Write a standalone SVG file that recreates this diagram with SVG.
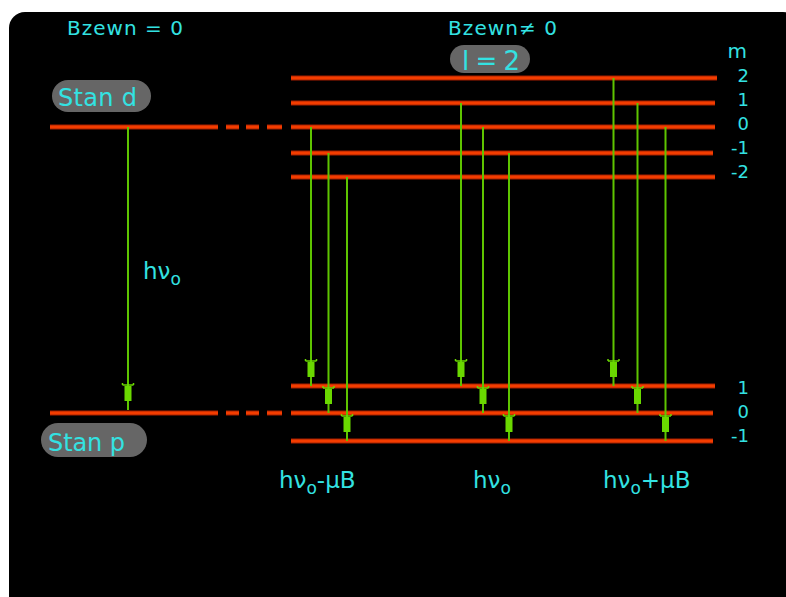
<svg xmlns="http://www.w3.org/2000/svg" width="786" height="597" viewBox="0 0 786 597">
<defs>
<style>
.lvl{stroke:#f43c00;stroke-width:3.4;fill:none;stroke-linecap:butt}
.glow{stroke:#8a1800;stroke-width:6;fill:none;opacity:0.6}
.tr{stroke:#5ec400;stroke-width:2;fill:none;marker-end:url(#ah)}
.t{fill:#33e2e2;font-family:"DejaVu Sans","Liberation Sans",sans-serif}
.pill{fill:#666666}
</style>
<marker id="ah" markerUnits="userSpaceOnUse" viewBox="-30 -7 32 14" refX="0" refY="0" markerWidth="32" markerHeight="14" orient="auto">
<rect x="-24" y="-3.5" width="15" height="7" fill="#6ad800"/>
<path d="M-25 -5.5 V5.5 M-25 -5.5 H-27 M-25 5.5 H-27" stroke="#6ad800" stroke-width="1.5" fill="none"/>
</marker>
</defs>
<rect x="9" y="12" width="790" height="600" rx="16" fill="#000"/>

<g id="levels-glow">
<path class="glow" d="M50 127H218M226 127H239M246 127H259M267 127H282M50 413H218M226 413H239M246 413H259M267 413H282M291 78H717M291 103H715M291 127H715M291 153H713M291 177H715M291 386H715M291 413H713M291 441H713"/>
</g>
<g id="state-d">
<path class="lvl" d="M50 127H218M226 127H239M246 127H259M267 127H282"/>
<rect class="pill" x="52" y="80" width="99" height="32" rx="16"/>
<text class="t" x="58" y="106" font-size="24" textLength="79">Stan d</text>
</g>
<g id="state-p">
<path class="lvl" d="M50 413H218M226 413H239M246 413H259M267 413H282"/>
<rect class="pill" x="41" y="423" width="106" height="34" rx="17"/>
<text class="t" x="48" y="451" font-size="24" textLength="77">Stan p</text>
</g>
<g id="upper-levels">
<path class="lvl" d="M291 78H717M291 103H715M291 127H715M291 153H713M291 177H715"/>
<rect class="pill" x="450" y="45" width="80" height="28" rx="14"/>
<text class="t" x="462" y="70" font-size="26" textLength="58">l = 2</text>
</g>
<g id="lower-levels">
<path class="lvl" d="M291 386H715M291 413H713M291 441H713"/>
</g>
<g id="labels">
<text class="t" x="67" y="35" font-size="20" textLength="116">Bzewn = 0</text>
<text class="t" x="448" y="35" font-size="20" textLength="109">Bzewn≠ 0</text>
<text class="t" x="747" y="58" font-size="20" text-anchor="end">m</text>
<g font-size="18" text-anchor="end">
<text class="t" x="749" y="82">2</text>
<text class="t" x="749" y="106">1</text>
<text class="t" x="749" y="130">0</text>
<text class="t" x="749" y="154">-1</text>
<text class="t" x="749" y="178">-2</text>
<text class="t" x="749" y="394">1</text>
<text class="t" x="749" y="418">0</text>
<text class="t" x="749" y="442">-1</text>
</g>
<text class="t" x="143" y="279" font-size="23">hν<tspan dy="6" font-size="17">o</tspan></text>
<text class="t" x="279" y="488" font-size="23">hν<tspan dy="6" font-size="17">o</tspan><tspan dy="-6">-μB</tspan></text>
<text class="t" x="473" y="488" font-size="23">hν<tspan dy="6" font-size="17">o</tspan></text>
<text class="t" x="603" y="488" font-size="23">hν<tspan dy="6" font-size="17">o</tspan><tspan dy="-6">+μB</tspan></text>
</g>
<g id="connectors">
<path class="tr" d="M128 127V410"/>
<path class="tr" d="M311 127V386"/>
<path class="tr" d="M328.5 153V413"/>
<path class="tr" d="M347 177V441"/>
<path class="tr" d="M461 103V386"/>
<path class="tr" d="M483 127V413"/>
<path class="tr" d="M509 153V441"/>
<path class="tr" d="M613.5 78V386"/>
<path class="tr" d="M637.5 103V413"/>
<path class="tr" d="M665.5 127V441"/>
</g>
</svg>
